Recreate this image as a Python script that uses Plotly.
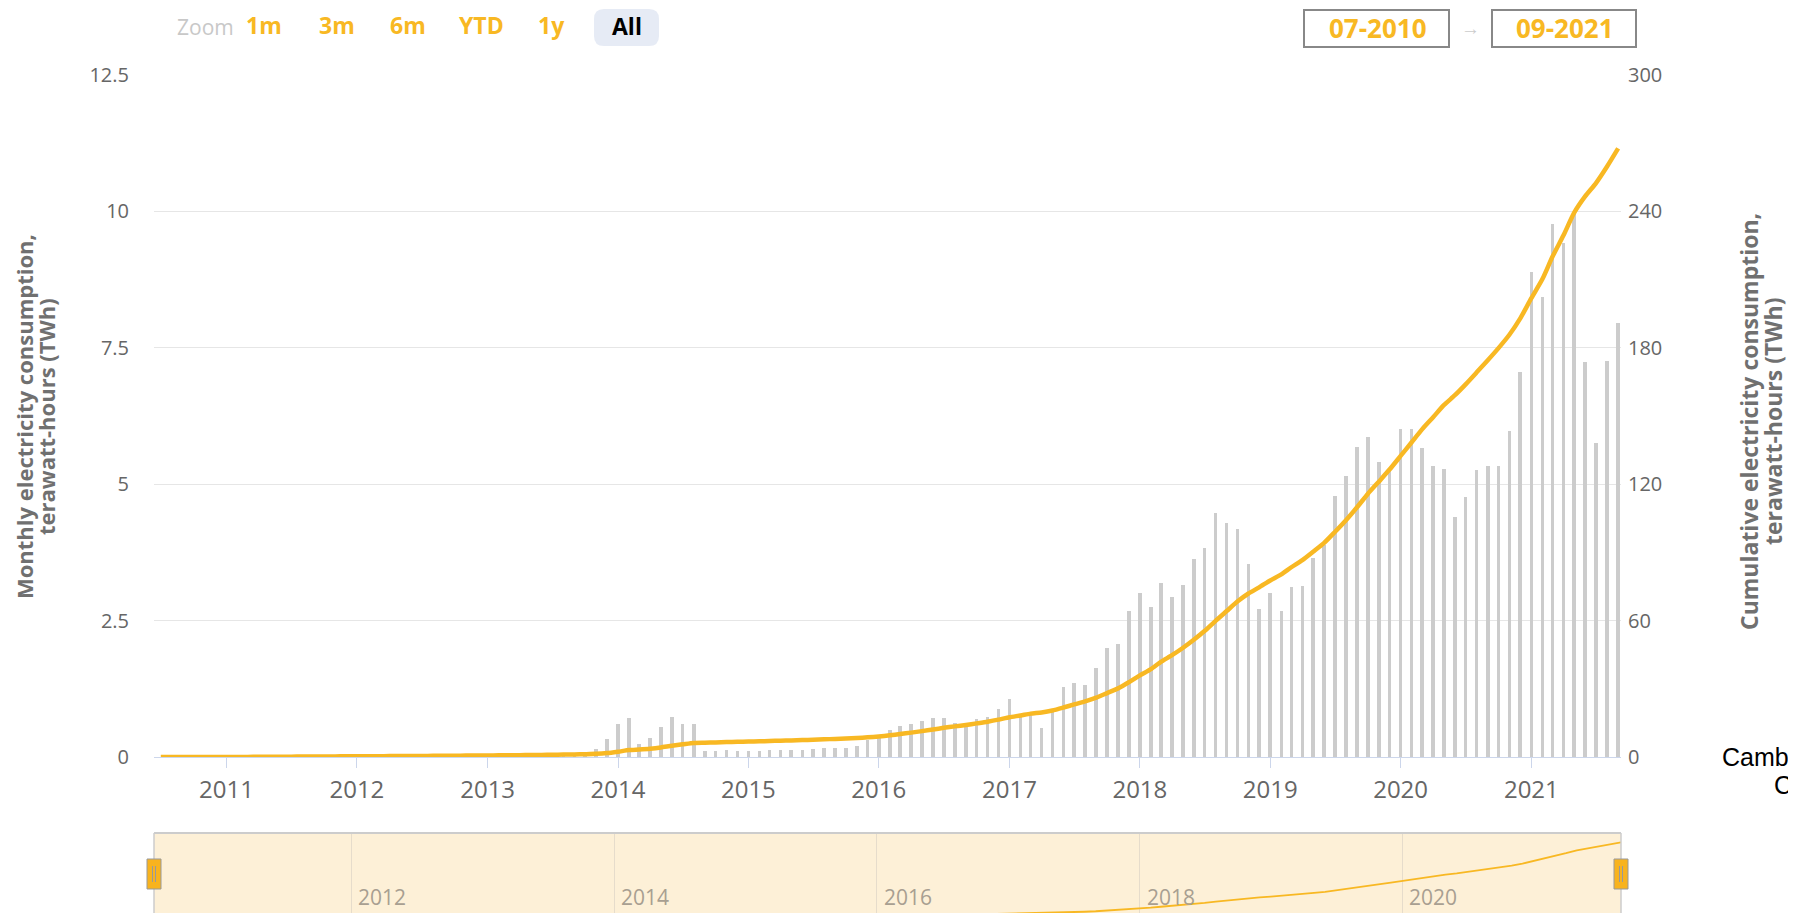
import numpy as np
import pandas as pd
import plotly.graph_objects as go

# ---------------- data (monthly electricity consumption, TWh) ----------------
start_month = "2010-07-01"
m2010 = [0.002, 0.002, 0.003, 0.004, 0.005, 0.005]
m2011 = [0.008, 0.010, 0.012, 0.015, 0.020, 0.030, 0.035, 0.035, 0.030, 0.025, 0.025, 0.025]
m2012 = [0.025, 0.025, 0.025, 0.025, 0.025, 0.028, 0.030, 0.030, 0.035, 0.035, 0.035, 0.035]
m2013 = [0.035, 0.040, 0.045, 0.050, 0.050, 0.055, 0.060, 0.070, 0.080, 0.100, 0.150, 0.330]
m2014 = [0.61, 0.72, 0.25, 0.36, 0.55, 0.75, 0.62, 0.62, 0.11, 0.11, 0.14, 0.11]
m2015 = [0.11, 0.11, 0.14, 0.14, 0.14, 0.14, 0.15, 0.18, 0.18, 0.18, 0.21, 0.32]
m2016 = [0.37, 0.50, 0.57, 0.61, 0.67, 0.72, 0.72, 0.64, 0.61, 0.71, 0.74, 0.89]
m2017 = [1.07, 0.78, 0.80, 0.54, 0.85, 1.30, 1.36, 1.33, 1.64, 2.01, 2.07, 2.69]
m2018 = [3.01, 2.76, 3.19, 2.94, 3.16, 3.63, 3.83, 4.48, 4.30, 4.18, 3.54, 2.72]
m2019 = [3.01, 2.69, 3.12, 3.15, 3.66, 3.90, 4.79, 5.16, 5.69, 5.87, 5.41, 5.30]
m2020 = [6.01, 6.01, 5.66, 5.33, 5.29, 4.40, 4.77, 5.27, 5.33, 5.33, 5.98, 7.06]
m2021 = [8.89, 8.43, 9.78, 9.42, 9.96, 7.24, 5.76, 7.27, 7.96]

monthly = np.array(m2010 + m2011 + m2012 + m2013 + m2014 + m2015 + m2016
                   + m2017 + m2018 + m2019 + m2020 + m2021)
months = pd.date_range(start_month, periods=len(monthly), freq="MS")
cumulative = np.cumsum(monthly)

left_ticks = [0, 2.5, 5, 7.5, 10, 12.5]
left_labels = ["0", "2.5", "5", "7.5", "10", "12.5"]
right_ticks = [0, 60, 120, 180, 240, 300]
right_labels = ["0", "60", "120", "180", "240", "300"]
nav_years = ["2012-01-01", "2014-01-01", "2016-01-01", "2018-01-01", "2020-01-01"]
nav_labels = ["2012", "2014", "2016", "2018", "2020"]
zoom_buttons = ["1m", "3m", "6m", "YTD", "1y"]

# ---------------- layout helpers ----------------
W, H = 1796, 913
def px(x):
    return x / W
def py(y):
    return 1 - y / H

FONT = "Open Sans"
ORANGE = "#f8b823"
GREY_TXT = "#666666"

PL, PR, PT, PB = 146, 1613, 66.5, 749
NAV_T = 825

fig = go.Figure()

fig.add_trace(go.Bar(
    x=months, y=monthly, xaxis="x", yaxis="y",
    marker=dict(color="#cccccc", line=dict(width=0)),
    width=10 * 86400000, name="Monthly", showlegend=False,
))
fig.add_trace(go.Scatter(
    x=months, y=cumulative, xaxis="x", yaxis="y2", mode="lines",
    line=dict(color=ORANGE, width=4.5, shape="spline", smoothing=0.6),
    name="Cumulative", showlegend=False,
))
# navigator series
fig.add_trace(go.Scatter(
    x=months, y=monthly, xaxis="x2", yaxis="y3", mode="lines",
    line=dict(color="rgba(150,150,150,0.5)", width=1), fill="tozeroy",
    fillcolor="rgba(170,170,170,0.35)", showlegend=False,
))
fig.add_trace(go.Scatter(
    x=months, y=cumulative, xaxis="x2", yaxis="y3", mode="lines",
    line=dict(color=ORANGE, width=1.8), showlegend=False,
))

shapes = []
# navigator background
shapes.append(dict(type="rect", xref="paper", yref="paper",
                   x0=px(PL), x1=px(PR), y0=py(H + 5), y1=py(NAV_T),
                   fillcolor="#fdf0d7", line=dict(width=0), layer="below"))
shapes.append(dict(type="line", xref="paper", yref="paper",
                   x0=px(PL), x1=px(PR), y0=py(NAV_T), y1=py(NAV_T),
                   line=dict(color="#cccccc", width=2)))
for xe in (PL, PR):
    shapes.append(dict(type="line", xref="paper", yref="paper",
                       x0=px(xe), x1=px(xe), y0=py(NAV_T), y1=py(H + 5),
                       line=dict(color="#cccccc", width=1.5)))
    shapes.append(dict(type="rect", xref="paper", yref="paper",
                       x0=px(xe - 7), x1=px(xe + 7), y0=py(881), y1=py(851),
                       fillcolor="#f8b31e", line=dict(color="#999999", width=1)))
    for dx in (-1.5, 1.5):
        shapes.append(dict(type="line", xref="paper", yref="paper",
                           x0=px(xe + dx), x1=px(xe + dx), y0=py(874), y1=py(858),
                           line=dict(color="#999999", width=1)))

# "All" pill
def rounded(x0, y0, x1, y1, r):
    X0, X1 = px(x0), px(x1)
    Y0, Y1 = py(y0), py(y1)
    rx, ry = r / W, r / H
    return (f"M {X0+rx},{Y0} L {X1-rx},{Y0} Q {X1},{Y0} {X1},{Y0-ry} "
            f"L {X1},{Y1+ry} Q {X1},{Y1} {X1-rx},{Y1} L {X0+rx},{Y1} "
            f"Q {X0},{Y1} {X0},{Y1+ry} L {X0},{Y0-ry} Q {X0},{Y0} {X0+rx},{Y0} Z")

BTN_Y = 17
shapes.append(dict(type="path", xref="paper", yref="paper",
                   path=rounded(586, 1, 651, 38, 10),
                   fillcolor="#e6ebf5", line=dict(width=0)))
# date input boxes
for x0, x1 in ((1296, 1441), (1484, 1628)):
    shapes.append(dict(type="rect", xref="paper", yref="paper",
                       x0=px(x0), x1=px(x1), y0=py(39), y1=py(2),
                       fillcolor="white", line=dict(color="#888888", width=2)))

annotations = []
annotations.append(dict(text="Zoom", xref="paper", yref="paper", x=px(197), y=py(BTN_Y + 2),
                        xanchor="center", yanchor="middle", showarrow=False,
                        font=dict(family=FONT, size=21, color="#c8c8c8")))
for lab, cx in zip(zoom_buttons, (256, 329, 400, 473, 543)):
    annotations.append(dict(text=f"<b>{lab}</b>", xref="paper", yref="paper", x=px(cx), y=py(BTN_Y),
                            xanchor="center", yanchor="middle", showarrow=False,
                            font=dict(family=FONT, size=23, color=ORANGE)))
annotations.append(dict(text="<b>All</b>", xref="paper", yref="paper", x=px(618.5), y=py(BTN_Y + 1),
                        xanchor="center", yanchor="middle", showarrow=False,
                        font=dict(family=FONT, size=23, color="#000000")))
annotations.append(dict(text="<b>07-2010</b>", xref="paper", yref="paper", x=px(1370), y=py(BTN_Y + 3),
                        xanchor="center", yanchor="middle", showarrow=False,
                        font=dict(family=FONT, size=26, color=ORANGE)))
annotations.append(dict(text="<b>09-2021</b>", xref="paper", yref="paper", x=px(1556.5), y=py(BTN_Y + 3),
                        xanchor="center", yanchor="middle", showarrow=False,
                        font=dict(family=FONT, size=26, color=ORANGE)))
annotations.append(dict(text="→", xref="paper", yref="paper", x=px(1462.5), y=py(BTN_Y + 3),
                        xanchor="center", yanchor="middle", showarrow=False,
                        font=dict(family=FONT, size=19, color="#cccccc")))
# axis titles
for txt, cx in (("Monthly electricity consumption,", 16), ("terawatt-hours (TWh)", 38)):
    annotations.append(dict(text=f"<b>{txt}</b>", xref="paper", yref="paper", x=px(cx), y=py(409),
                            xanchor="center", yanchor="middle", textangle=-90, showarrow=False,
                            font=dict(family=FONT, size=22, color="#707070")))
for txt, cx in (("Cumulative electricity consumption,", 1741), ("terawatt-hours (TWh)", 1765)):
    annotations.append(dict(text=f"<b>{txt}</b>", xref="paper", yref="paper", x=px(cx), y=py(414),
                            xanchor="center", yanchor="middle", textangle=-90, showarrow=False,
                            font=dict(family=FONT, size=23, color="#707070")))
# navigator labels
for d, lab in zip(nav_years, nav_labels):
    annotations.append(dict(text=lab, xref="x2", yref="paper", x=d, y=py(889),
                            xanchor="left", xshift=5, yanchor="middle", showarrow=False,
                            font=dict(family=FONT, size=21, color="#a89f91")))
# caption on the right (cut by the window edge)
for txt, cy in (("Cambridge Bitcoin Electricity", 749), ("Consumption Index", 777)):
    annotations.append(dict(text=txt, xref="paper", yref="paper", x=px(1874), y=py(cy),
                            xanchor="center", yanchor="middle", showarrow=False,
                            font=dict(family="Liberation Sans", size=25, color="#000000")))

fig.update_layout(
    width=W, height=H,
    margin=dict(l=0, r=0, t=0, b=0, autoexpand=False),
    paper_bgcolor="white", plot_bgcolor="white",
    font=dict(family=FONT, color=GREY_TXT),
    showlegend=False, bargap=0,
    xaxis=dict(
        type="date", domain=[px(PL), px(PR)], anchor="y",
        range=["2010-06-12", "2021-09-09"],
        tick0="2011-01-01", dtick="M12", tickformat="%Y",
        showgrid=False, zeroline=False,
        showline=True, linecolor="#ccd6eb", linewidth=1,
        ticks="outside", ticklen=10, tickcolor="#ccd6eb", tickwidth=1,
        tickfont=dict(family=FONT, size=24, color=GREY_TXT),
        ticklabelstandoff=1,
        fixedrange=True,
    ),
    yaxis=dict(
        domain=[py(PB), py(PT)], anchor="x", range=[0, 12.5],
        tickvals=left_ticks, ticktext=left_labels,
        showgrid=True, gridcolor="#e6e6e6", gridwidth=1,
        zeroline=False, showline=False, ticks="",
        tickfont=dict(family=FONT, size=20, color=GREY_TXT),
        ticklabelstandoff=24, fixedrange=True,
    ),
    yaxis2=dict(
        overlaying="y", side="right", anchor="x", range=[0, 300],
        tickvals=right_ticks, ticktext=right_labels,
        showgrid=False, zeroline=False, showline=False, ticks="",
        tickfont=dict(family=FONT, size=20, color=GREY_TXT),
        ticklabelstandoff=6, fixedrange=True,
    ),
    xaxis2=dict(
        type="date", domain=[px(PL), px(PR)], anchor="y3",
        range=["2010-07-01", "2021-09-01"],
        tick0="2012-01-01", dtick="M24",
        showgrid=True, gridcolor="#e6dccb", gridwidth=1,
        showticklabels=False, ticks="", showline=False, zeroline=False,
        fixedrange=True,
    ),
    yaxis3=dict(
        domain=[0, py(NAV_T)], anchor="x2", range=[-8, 300],
        showgrid=False, zeroline=False, showline=False, showticklabels=False,
        ticks="", fixedrange=True,
    ),
    shapes=shapes,
    annotations=annotations,
)

fig.write_html("out.html", config={"displayModeBar": False})
